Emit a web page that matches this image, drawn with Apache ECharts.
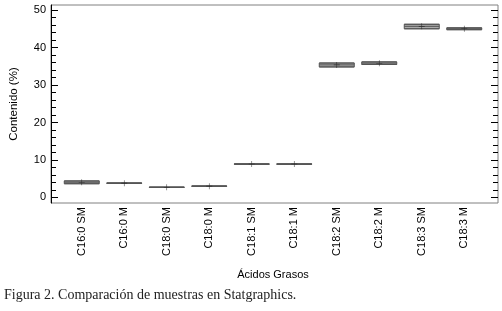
<!DOCTYPE html>
<html>
<head>
<meta charset="utf-8">
<script src="https://cdn.jsdelivr.net/npm/echarts@6/dist/echarts.min.js"></script>
<style>
html,body{margin:0;padding:0;background:#fff;}
#c{width:502px;height:311px;}
</style>
</head>
<body>
<div id="c"></div>
<script>
// ---- data ----
var categories = ['C16:0 SM','C16:0 M','C18:0 SM','C18:0 M','C18:1 SM','C18:1 M','C18:2 SM','C18:2 M','C18:3 SM','C18:3 M'];
var boxLow  = [3.65, 3.75, 2.65, 2.95, 8.85, 8.85, 34.85, 35.5, 45.05, 44.8];
var boxHigh = [4.40, 3.85, 2.75, 3.05, 8.95, 8.95, 35.9, 36.2, 46.25, 45.3];
var medians = [4.05, 3.80, 2.70, 3.00, 8.90, 8.90, 35.4, 35.85, 45.7, 45.05];
var means   = [4.05, 3.80, 2.70, 3.00, 8.90, 8.90, 35.4, 35.85, 45.7, 45.05];
var majorTicks = [0, 10, 20, 30, 40, 50];
var minorTicks = [2,4,6,8,12,14,16,18,22,24,26,28,32,34,36,38,42,44,46,48];
var yMin = -1.5, yMax = 51.4;

var boxData = categories.map(function(c, i){
  return [boxLow[i], boxLow[i], medians[i], boxHigh[i], boxHigh[i]];
});
var meanData = categories.map(function(c, i){ return [c, means[i]]; });

var chart = echarts.init(document.getElementById('c'), null, {renderer:'canvas'});
var font = 'Liberation Sans, Arial, sans-serif';

function yAx(grid, pos, ticks, len, showLine, showLabel, lineColor, extra){
  var o = {
    type:'value', gridIndex:grid, position:pos, min:yMin, max:yMax,
    splitLine:{show:false},
    axisLine:{show:showLine, lineStyle:{color:lineColor, width:1}},
    axisTick:{show:ticks!==null, inside:true, length:len, customValues:ticks||undefined, lineStyle:{color:'#000', width:1}},
    axisLabel:{show:showLabel, customValues:showLabel?majorTicks:undefined, margin:5, fontSize:11, color:'#000', fontFamily:font}
  };
  if (extra) for (var k in extra) o[k] = extra[k];
  return o;
}

var option = {
  animation:false,
  backgroundColor:'#fff',
  grid:[
    {left:47, top:5, right:4, height:198, show:true, borderColor:'#808080', borderWidth:1, backgroundColor:'transparent'},
    {left:60.5, top:5, right:16.5, height:198, show:false}
  ],
  xAxis:[
    {type:'value', gridIndex:0, min:0, max:1, show:false},
    {type:'category', gridIndex:1, data:categories, boundaryGap:true,
     axisLine:{show:false}, axisTick:{show:false}, splitLine:{show:false},
     axisLabel:{rotate:90, margin:4, fontSize:11, color:'#000', fontFamily:font, interval:0},
     name:'Ácidos Grasos', nameLocation:'middle', nameGap:66,
     nameTextStyle:{fontSize:11, color:'#000', fontFamily:font}}
  ],
  yAxis:[
    yAx(0,'left',majorTicks,7,true,true,'#000',{name:'Contenido (%)', nameLocation:'middle', nameGap:31, nameTextStyle:{fontSize:11.5, color:'#000', fontFamily:font}}),
    yAx(0,'left',minorTicks,5,false,false,'#000'),
    yAx(0,'right',majorTicks,7,false,false,'#808080'),
    yAx(0,'right',minorTicks,5,false,false,'#808080'),
    {type:'value', gridIndex:1, min:yMin, max:yMax, show:false}
  ],
  series:[
    {type:'boxplot', xAxisIndex:1, yAxisIndex:4, data:boxData, boxWidth:[35,35],
     itemStyle:{color:'#ababab', borderColor:'#555555', borderWidth:1},
     emphasis:{disabled:true}},
    {type:'scatter', xAxisIndex:1, yAxisIndex:4, data:meanData,
     symbol:'path://M0,4.5H10V5.5H0Z M4.5,0H5.5V10H4.5Z', symbolSize:6,
     itemStyle:{color:'#222'}, emphasis:{disabled:true}}
  ],
  graphic:[
    {type:'text', left:4, top:288, style:{text:'Figura 2. Comparación de muestras en Statgraphics.', font:'14px "Liberation Serif", serif', fill:'#222'}}
  ]
};
chart.setOption(option);
</script>
</body>
</html>
